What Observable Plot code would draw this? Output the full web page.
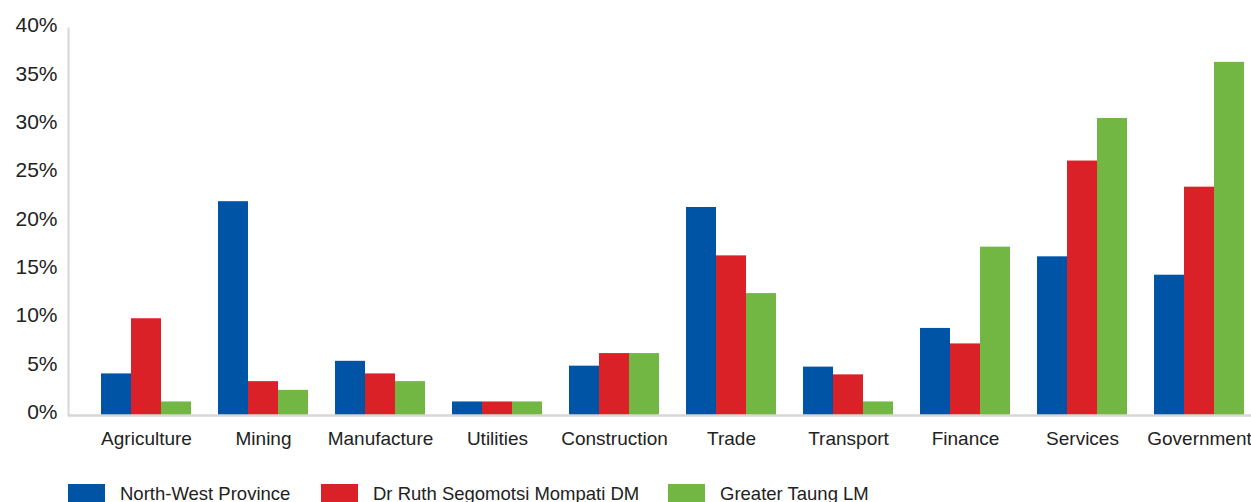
<!DOCTYPE html>
<html>
<head>
<meta charset="utf-8">
<script src="https://cdn.jsdelivr.net/npm/d3@7"></script>
<script src="https://cdn.jsdelivr.net/npm/@observablehq/plot@0.6"></script>
<style>
  html, body { margin: 0; padding: 0; background: #fff; }
  body { width: 1251px; height: 502px; overflow: hidden; font-family: "Liberation Sans", sans-serif; color: #222; }
  #legend { position: relative; height: 30px; margin-top: 13px; font-size: 18.5px; }
  #legend .item { position: absolute; top: 0; display: flex; align-items: center; white-space: nowrap; }
  #legend .sw { width: 37px; height: 20px; margin-right: 15px; }
</style>
</head>
<body>
<div id="chart"></div>
<div id="legend"></div>
<script>
// Sector shares of employment (%)
const sectors = ["Agriculture", "Mining", "Manufacture", "Utilities", "Construction", "Trade", "Transport", "Finance", "Services", "Government"];
const regions = ["North-West Province", "Dr Ruth Segomotsi Mompati DM", "Greater Taung LM"];
const northWest    = [4.3, 22.1, 5.6, 1.4, 5.1, 21.5, 5.0, 9.0, 16.4, 14.5];
const drRuth       = [10.0, 3.5, 4.3, 1.4, 6.4, 16.5, 4.2, 7.4, 26.3, 23.6];
const greaterTaung = [1.4, 2.6, 3.5, 1.4, 6.4, 12.6, 1.4, 17.4, 30.7, 36.5];
const colors = ["#0054A6", "#DA2128", "#72B644"];
const yTicks = [0, 5, 10, 15, 20, 25, 30, 35, 40];

const seriesValues = [northWest, drRuth, greaterTaung];
const data = sectors.flatMap((s, i) =>
  regions.map((r, j) => ({sector: s, region: r, value: seriesValues[j][i]}))
);

// Band layout for the sector groups; each group is split into three equal bars.
const xRange = [101, 1244];
const xPadding = 3 / 13;
const bandwidth = d3.scaleBand(sectors, xRange).paddingInner(xPadding).paddingOuter(0).bandwidth();
const barW = bandwidth / regions.length;

const font = "'Liberation Sans', sans-serif";

const chart = Plot.plot({
  width: 1251,
  height: 470,
  marginTop: 28,
  marginBottom: 55,
  marginLeft: 68,
  marginRight: 0,
  style: {fontFamily: font, fontSize: "19px", color: "#222"},
  x: {domain: sectors, range: xRange, paddingInner: xPadding, paddingOuter: 0, round: false, label: null},
  y: {domain: [0, 40], label: null},
  color: {domain: regions, range: colors},
  marks: [
    Plot.axisY({ticks: yTicks, tickSize: 0, tickPadding: 11, tickFormat: d => d + "%", dy: -3, fontSize: 21, label: null}),
    Plot.axisX({tickSize: 0, tickPadding: 16, label: null, fontSize: 19}),
    ...regions.map((r, j) =>
      Plot.barY(data.filter(d => d.region === r), {
        x: "sector", y: "value", fill: "region",
        insetLeft: j * barW, insetRight: (regions.length - 1 - j) * barW
      })
    ),
    Plot.ruleY([0], {stroke: "#d9d6d3", strokeWidth: 2.5}),
    Plot.frame({anchor: "left", stroke: "#d9d6d3", strokeWidth: 2})
  ]
});
document.getElementById("chart").appendChild(chart);

const legend = document.getElementById("legend");
const legendLeft = [68, 321, 668];
regions.forEach((r, i) => {
  const item = document.createElement("div");
  item.className = "item";
  item.style.left = legendLeft[i] + "px";
  const sw = document.createElement("div");
  sw.className = "sw";
  sw.style.background = colors[i];
  const label = document.createElement("span");
  label.textContent = r;
  item.appendChild(sw);
  item.appendChild(label);
  legend.appendChild(item);
});
</script>
</body>
</html>
